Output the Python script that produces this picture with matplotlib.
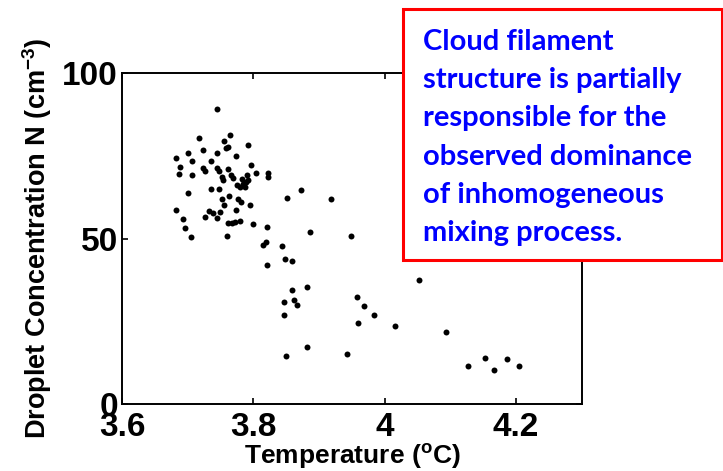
import matplotlib
matplotlib.use("Agg")
import matplotlib.pyplot as plt
from matplotlib.patches import Rectangle

# Temperature (deg C) and droplet number concentration (cm^-3) samples
temperature = [
    3.744, 3.765, 3.717, 3.756, 3.792, 3.762, 3.759, 3.723, 3.700, 3.745,
    3.774, 3.683, 3.706, 3.736, 3.688, 3.796, 3.723, 3.727, 3.745, 3.747,
    3.761, 3.687, 3.707, 3.804, 3.822, 3.823, 3.753, 3.754, 3.766, 3.769,
    3.791, 3.792, 3.783, 3.789, 3.784, 3.775, 3.780, 3.787, 3.736, 3.748,
    3.701, 3.763, 3.852, 3.873, 3.753, 3.776, 3.781, 3.919, 3.756, 3.795,
    3.683, 3.774, 3.733, 3.739, 3.750, 3.745, 3.726, 3.693, 3.761, 3.767,
    3.772, 3.779, 3.800, 3.696, 3.821, 3.886, 3.949, 3.705, 3.760, 3.820,
    3.814, 3.843, 3.848, 3.859, 3.821, 3.859, 3.881, 3.846, 3.862, 3.866,
    3.846, 3.881, 3.849, 3.942, 4.053, 3.958, 3.969, 3.984, 3.960, 4.016,
    4.094, 4.127, 4.152, 4.167, 4.186, 4.205,
]
concentration = [
    89.2, 81.3, 80.3, 79.6, 78.2, 77.8, 77.3, 76.9, 76.0, 76.0,
    75.1, 74.3, 73.4, 73.5, 71.8, 72.4, 71.3, 70.6, 71.5, 70.6,
    71.1, 69.5, 69.2, 69.8, 69.9, 68.5, 68.6, 67.8, 69.2, 68.2,
    69.2, 67.7, 68.0, 67.0, 66.4, 66.1, 65.6, 65.5, 64.9, 65.0,
    63.7, 63.0, 62.2, 64.7, 62.0, 62.0, 61.2, 61.9, 60.2, 60.1,
    58.6, 58.6, 58.3, 57.7, 58.1, 56.2, 56.6, 56.0, 54.6, 54.7,
    55.0, 55.3, 54.5, 53.1, 53.5, 52.0, 50.9, 50.4, 50.7, 49.1,
    48.1, 47.8, 43.8, 43.2, 42.1, 34.5, 35.3, 30.8, 31.5, 30.0,
    26.9, 17.2, 14.6, 15.1, 37.5, 32.4, 29.7, 27.0, 24.5, 23.5,
    21.9, 11.6, 13.8, 10.3, 13.7, 11.5,
]

xticks = [3.6, 3.8, 4.0, 4.2]
xtick_labels = ["3.6", "3.8", "4", "4.2"]
yticks = [0, 50, 100]

note = ("Cloud filament\nstructure is partially\nresponsible for the\n"
        "observed dominance\nof inhomogeneous\nmixing process.")

plt.rcParams["font.family"] = "Liberation Sans"
plt.rcParams["font.weight"] = "bold"
plt.rcParams["mathtext.fontset"] = "custom"
plt.rcParams["mathtext.rm"] = "Liberation Sans:bold"
plt.rcParams["mathtext.it"] = "Liberation Sans:bold"
plt.rcParams["mathtext.bf"] = "Liberation Sans:bold"

fig = plt.figure(figsize=(7.23, 4.71), dpi=100)
ax = fig.add_axes([0.1687, 0.1423, 0.6359, 0.7021])

ax.plot(temperature, concentration, "o", color="black", markersize=4.3,
        markeredgewidth=0)

ax.set_xlim(3.6, 4.3)
ax.set_ylim(0, 100)
ax.set_xticks(xticks)
ax.set_xticklabels(xtick_labels)
ax.set_yticks(yticks)
ax.tick_params(direction="in", length=4, width=1.2, top=True, right=True,
               labelsize=24)
ax.tick_params(axis="x", pad=6)
ax.tick_params(axis="y", pad=3)
for s in ax.spines.values():
    s.set_linewidth(1.4)

ax.set_xlabel("Temperature ($^{\\mathrm{o}}$C)", fontsize=19,
              fontweight="bold", labelpad=-1)
ax.set_ylabel("Droplet Concentration N (cm$^{-3}$)", fontsize=19.5,
              fontweight="bold", labelpad=6)

# text box overlapping the upper right corner of the plot
box = Rectangle((403 / 723, 1 - 260 / 471), 319 / 723, 251 / 471,
                transform=fig.transFigure, facecolor="white",
                edgecolor="#ff0000", linewidth=2.2, zorder=10)
fig.add_artist(box)
fig.text(423 / 723, 1 - 29 / 471, note, family="Lato", fontweight="bold",
         fontsize=21, color="#0000ff", ha="left", va="top",
         linespacing=1.58, zorder=11)

fig.savefig("out.png", dpi=100)
